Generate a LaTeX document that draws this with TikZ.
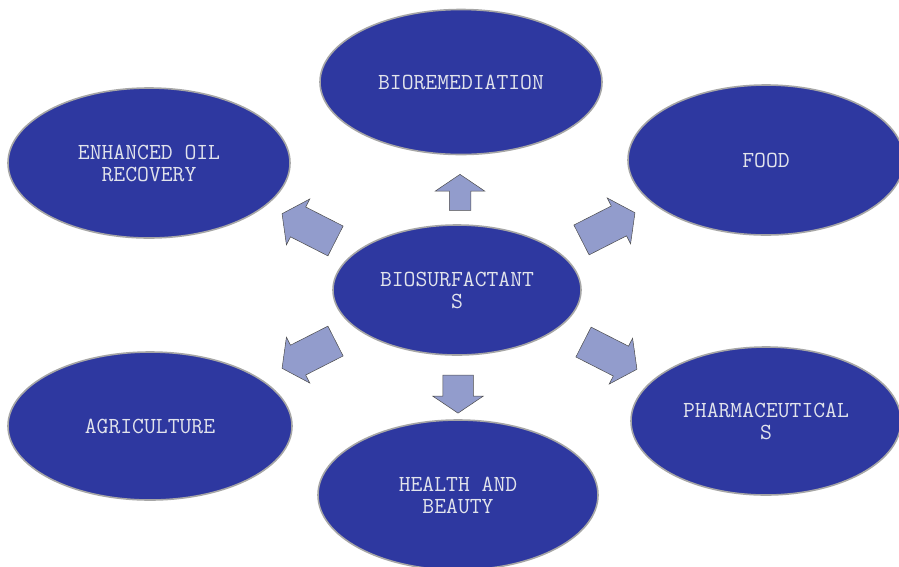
\documentclass[tikz,border=0pt]{standalone}
\usepackage{fontspec}
\usetikzlibrary{shapes.geometric, shapes.arrows}

\definecolor{bubble}{RGB}{46,56,160}
\definecolor{bubbletext}{RGB}{226,228,236}
\definecolor{pointer}{RGB}{146,156,204}

\begin{document}
\begin{tikzpicture}[x=1pt, y=-1pt,
    bubble/.style={ellipse, draw=gray!70, line width=1.6pt, fill=bubble,
        text=bubbletext, inner sep=0pt, align=center,
        font=\ttfamily\fontsize{23}{22}\selectfont},
    pointer/.style={single arrow, draw=black!70, line width=0.5pt, fill=pointer,
        inner xsep=0pt, inner ysep=16.5pt, single arrow head extend=9pt,
        single arrow tip angle=110}]
    \useasboundingbox (0,0) rectangle (899,566);

    \begin{scope}
        \node[bubble, minimum width=248pt, minimum height=130pt] (bio) at (457,290) {BIOSURFACTANT\\S};
    \end{scope}

    \begin{scope}
        \node[bubble, minimum width=282pt, minimum height=145pt] (rem) at (461,82) {BIOREMEDIATION};
        \node[bubble, minimum width=276pt, minimum height=150pt] (food) at (766,160) {FOOD};
        \node[bubble, minimum width=282pt, minimum height=150pt] (eor) at (149,163) {ENHANCED OIL\\RECOVERY};
        \node[bubble, minimum width=284pt, minimum height=148pt] (agri) at (150,426) {AGRICULTURE};
        \node[bubble, minimum width=280pt, minimum height=150pt] (hab) at (458,495) {HEALTH AND\\BEAUTY};
        \node[bubble, minimum width=270pt, minimum height=148pt] (pharm) at (766,421) {PHARMACEUTICAL\\S};
    \end{scope}

    % block arrows around the centre
    \node[pointer, minimum height=36pt, inner ysep=10.5pt, single arrow head extend=14pt, single arrow tip angle=112, rotate=90] (toRem) at (460,196) {};
    \node[pointer, minimum height=38pt, inner ysep=15pt, single arrow head extend=10pt, single arrow tip angle=112, rotate=-90] (toHab) at (458,389) {};
    \node[pointer, minimum height=60pt, rotate=153] (toEor) at (314,230) {};
    \node[pointer, minimum height=60pt, rotate=27] (toFood) at (603,229) {};
    \node[pointer, minimum height=60pt, rotate=207] (toAgri) at (314,352) {};
    \node[pointer, minimum height=60pt, rotate=-27] (toPharm) at (605,353) {};

\end{tikzpicture}
\end{document}
